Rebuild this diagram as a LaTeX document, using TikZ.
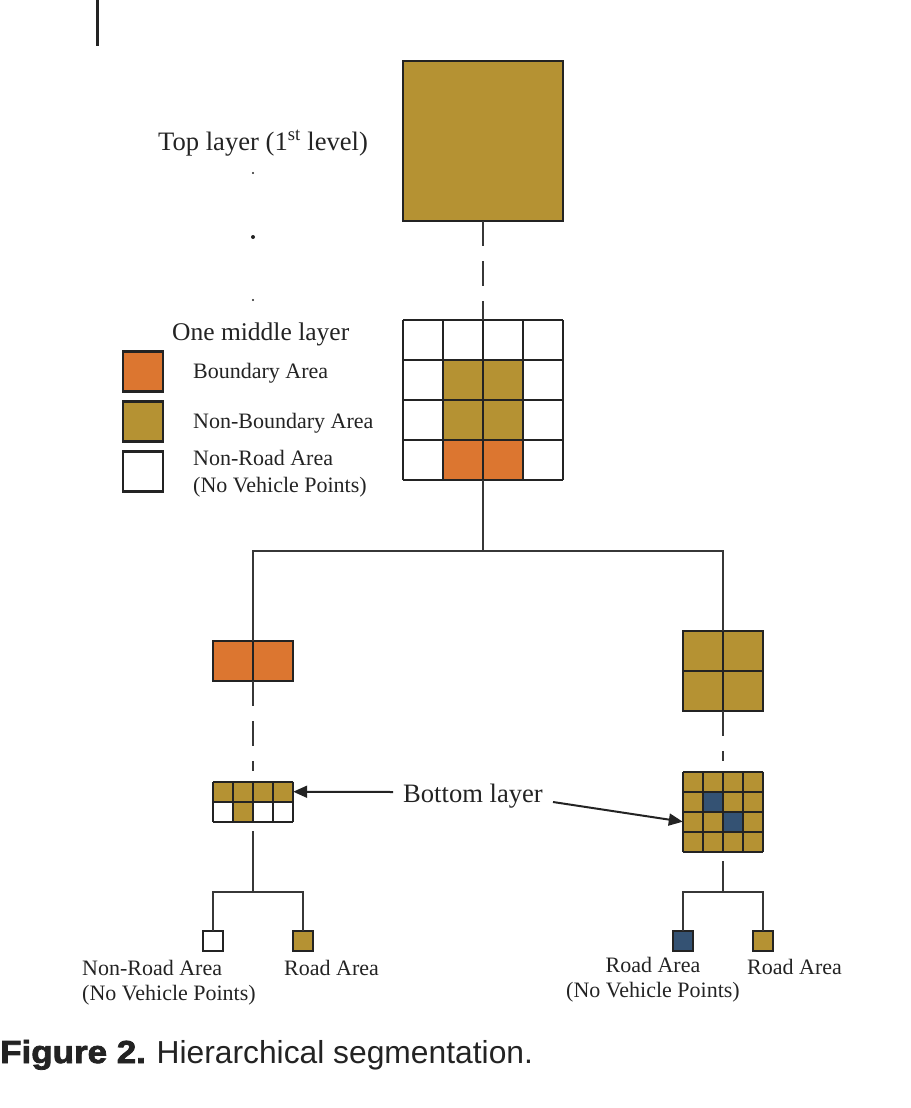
\documentclass[tikz,border=0pt]{standalone}
\usepackage{fontspec}
\setmainfont{Liberation Serif}
\newfontfamily\capfont{Liberation Sans}
\newfontfamily\heavyfont[FakeBold=2.5,FakeStretch=1.1]{Liberation Sans Bold}
\usetikzlibrary{arrows.meta}
\definecolor{gold}{RGB}{181,146,51}
\definecolor{orng}{RGB}{220,118,48}
\definecolor{navy}{RGB}{52,82,115}
\definecolor{ink}{RGB}{35,35,35}
\definecolor{lineg}{RGB}{55,55,55}
\tikzset{
  cellbox/.style={draw=ink,line width=2.2pt,inner sep=0pt,outer sep=0pt},
  gridln/.style={draw=ink,line width=2.2pt},
  conn/.style={draw=lineg,line width=2pt},
  arr/.style={draw=ink,line width=2pt,-{Triangle[length=14pt,width=12pt]}},
  bigtxt/.style={font=\fontsize{26.6}{30}\selectfont,text=ink,inner sep=0pt},
  midtxt/.style={font=\fontsize{25.5}{30}\selectfont,text=ink,inner sep=0pt},
  smltxt/.style={font=\fontsize{22}{26}\selectfont,text=ink,inner sep=0pt},
}
\begin{document}
\begin{tikzpicture}[x=1pt,y=-1pt]
\useasboundingbox (0,0) rectangle (910,1108);
% stray top-left mark
\draw[ink,line width=3pt] (97,0) -- (97,46);

% top layer
\node[cellbox,fill=gold,minimum size=160pt] (top) at (483,141) {};
\node[bigtxt,anchor=base west] (toplbl) at (158,150) {Top layer (1\textsuperscript{st} level)};
\fill[ink] (253,173) circle (1.2pt);
\fill[ink] (253,237) circle (2pt);
\fill[ink] (253,300) circle (1.2pt);

% middle layer grid
\node[minimum size=160pt,inner sep=0pt] (mid) at (483,400) {};
\fill[gold] (443,360) rectangle (523,440);
\fill[orng] (443,440) rectangle (523,480);
\foreach \i in {0,...,4} {
  \draw[gridln] (403+\i*40,320) -- (403+\i*40,480);
  \draw[gridln] (403,320+\i*40) -- (563,320+\i*40);
}
\draw[conn,dash pattern=on 25pt off 15pt] (top.south) -- (mid.north);

% legend
\node[midtxt,anchor=base west] (leg) at (172,340) {One middle layer};
\node[cellbox,fill=orng,minimum size=40pt] (lg1) at (143,371.5) {};
\node[cellbox,fill=gold,minimum size=40pt] (lg2) at (143,421.5) {};
\node[cellbox,fill=white,minimum size=40pt] (lg3) at (143,471.5) {};
\node[smltxt,anchor=base west] (lt1) at (193,378) {Boundary Area};
\node[smltxt,anchor=base west] (lt2) at (193,428) {Non-Boundary Area};
\node[smltxt,anchor=base west] (lt3) at (193,465) {Non-Road Area};
\node[smltxt,anchor=base west] (lt4) at (193,492) {(No Vehicle Points)};

% second level
\node[cellbox,fill=orng,minimum width=80pt,minimum height=40pt] (lbox) at (253,661) {};
\draw[gridln] (253,641) -- (253,681);
\node[cellbox,fill=gold,minimum size=80pt] (rbox) at (723,671) {};
\draw[gridln] (723,631) -- (723,711);
\draw[gridln] (683,671) -- (763,671);
\coordinate (sp) at (483,551);
\draw[conn] (mid.south) -- (sp);
\draw[conn] (lbox.north) -- (lbox.north |- sp) -- (rbox.north |- sp) -- (rbox.north);

% bottom layer grids
\node[minimum width=80pt,minimum height=40pt,inner sep=0pt] (lgrid) at (253,801.7) {};
\fill[gold] (213,781.7) rectangle (293,801.7);
\fill[gold] (233,801.7) rectangle (253,821.7);
\foreach \i in {0,...,4} \draw[gridln] (213+\i*20,781.7) -- (213+\i*20,821.7);
\foreach \j in {0,...,2} \draw[gridln] (213,781.7+\j*20) -- (293,781.7+\j*20);

\node[minimum size=80pt,inner sep=0pt] (rgrid) at (723,811.7) {};
\fill[gold] (683,771.7) rectangle (763,851.7);
\fill[navy] (703,791.7) rectangle (723,811.7);
\fill[navy] (723,811.7) rectangle (743,831.7);
\foreach \i in {0,...,4} {
  \draw[gridln] (683+\i*20,771.7) -- (683+\i*20,851.7);
  \draw[gridln] (683,771.7+\i*20) -- (763,771.7+\i*20);
}
\draw[conn,dash pattern=on 25pt off 15pt on 25pt off 15pt on 10pt off 20pt] (lbox.south) -- (lgrid.north);
\draw[conn,dash pattern=on 25pt off 15pt on 10pt off 20pt] (rbox.south) -- (rgrid.north);

\node[bigtxt,anchor=base west,inner xsep=10pt] (bl) at (393,802) {Bottom layer};
\draw[arr] ([yshift=10pt]bl.base west) -- ([yshift=10pt]lgrid.east);
\draw[arr] (bl.base east) -- ([yshift=-10pt]rgrid.west);

% leaves
\node[cellbox,fill=white,minimum size=20pt] (l1) at (213,941) {};
\node[cellbox,fill=gold,minimum size=20pt] (l2) at (303,941) {};
\node[cellbox,fill=navy,minimum size=20pt] (r1) at (683,941) {};
\node[cellbox,fill=gold,minimum size=20pt] (r2) at (763,941) {};
\coordinate (lf) at (253,891.7);
\coordinate (rf) at (723,891.7);
\draw[conn,dash pattern=on 0pt off 9.5pt on 200pt] (lgrid.south) -- (lf);
\draw[conn,dash pattern=on 0pt off 9.5pt on 200pt] (rgrid.south) -- (rf);
\draw[conn] (l1.north) |- (lf) -| (l2.north);
\draw[conn] (r1.north) |- (rf) -| (r2.north);

\node[smltxt,anchor=base west] (t1) at (82,975) {Non-Road Area};
\node[smltxt,anchor=base west] (t2) at (82,1000) {(No Vehicle Points)};
\node[smltxt,anchor=base west] (t3) at (284,975) {Road Area};
\node[smltxt,anchor=base] (t4) at (653,972) {Road Area};
\node[smltxt,anchor=base] (t5) at (653,997) {(No Vehicle Points)};
\node[smltxt,anchor=base west] (t6) at (747,974) {Road Area};

% caption
\node[anchor=base west,inner sep=0pt,text=ink,font=\fontsize{31.8}{36}\selectfont] (cap) at (0,1063)
  {{\heavyfont Figure 2.} {\capfont Hierarchical segmentation.}};
\end{tikzpicture}
\end{document}
